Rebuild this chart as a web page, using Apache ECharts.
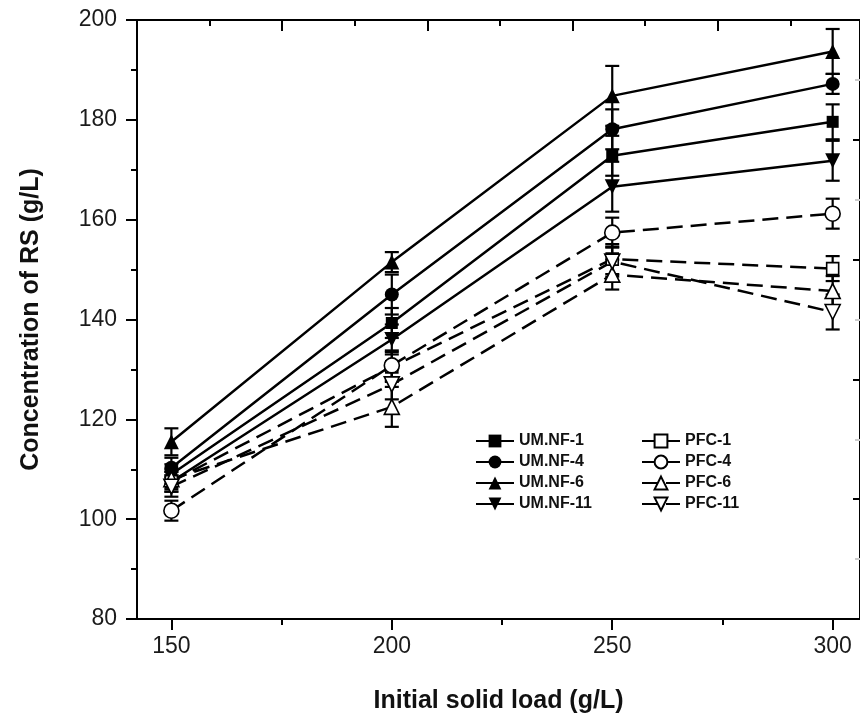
<!DOCTYPE html>
<html>
<head>
<meta charset="utf-8">
<script src="https://cdn.jsdelivr.net/npm/echarts@6/dist/echarts.min.js"></script>
<style>html,body{margin:0;padding:0;background:#fff}#c{width:860px;height:725px}</style>
</head>
<body>
<div id="c"></div>
<script>
// ---- data ----
const loads = [150, 200, 250, 300];
const xTickLabels = [150, 200, 250, 300];
const xMinorTicks = [175, 225, 275];
const yTickMin = 80, yTickMax = 200, yTickStep = 20;

const umnf1  = [109.0, 139.3, 172.8, 179.6];
const umnf4  = [110.3, 145.0, 178.1, 187.2];
const umnf6  = [115.5, 151.5, 184.8, 193.7];
const umnf11 = [107.5, 136.0, 166.6, 171.8];
const pfc1   = [107.5, 130.5, 152.1, 150.2];
const pfc4   = [101.7, 130.8, 157.4, 161.2];
const pfc6   = [108.0, 122.5, 149.0, 145.7];
const pfc11  = [106.5, 127.0, 151.6, 141.5];

const errUmnf1  = [2.0, 3.0, 4.0, 3.5];
const errUmnf4  = [2.0, 4.0, 4.0, 2.0];
const errUmnf6  = [2.7, 2.0, 6.0, 4.5];
const errUmnf11 = [2.0, 3.0, 5.0, 4.0];
const errPfc1   = [2.0, 3.0, 3.0, 2.5];
const errPfc4   = [2.0, 3.0, 3.0, 3.0];
const errPfc6   = [2.0, 4.0, 3.0, 3.0];
const errPfc11  = [2.0, 3.0, 3.0, 3.5];

const FONT = "'Liberation Sans', Arial, sans-serif";

const seriesDefs = [
  {name:'UM.NF-1',  data:umnf1,  err:errUmnf1,  symbol:'rect',     size:12, rot:0,   hollow:false},
  {name:'UM.NF-4',  data:umnf4,  err:errUmnf4,  symbol:'circle',   size:14, rot:0,   hollow:false},
  {name:'UM.NF-6',  data:umnf6,  err:errUmnf6,  symbol:'triangle', size:15, rot:0,   hollow:false},
  {name:'UM.NF-11', data:umnf11, err:errUmnf11, symbol:'triangle', size:15, rot:180, hollow:false},
  {name:'PFC-1',    data:pfc1,   err:errPfc1,   symbol:'rect',     size:12, rot:0,   hollow:true},
  {name:'PFC-4',    data:pfc4,   err:errPfc4,   symbol:'circle',   size:15, rot:0,   hollow:true},
  {name:'PFC-6',    data:pfc6,   err:errPfc6,   symbol:'triangle', size:15, rot:0,   hollow:true},
  {name:'PFC-11',   data:pfc11,  err:errPfc11,  symbol:'triangle', size:15, rot:180, hollow:true}
];

function renderErr(params, api) {
  const x = api.value(0), y = api.value(1), e = api.value(2);
  const hi = api.coord([x, y + e]);
  const lo = api.coord([x, y - e]);
  const w = 7;
  const st = {stroke:'#000', lineWidth:2.2};
  return {type:'group', children:[
    {type:'line', shape:{x1:hi[0], y1:hi[1], x2:lo[0], y2:lo[1]}, style:st},
    {type:'line', shape:{x1:hi[0]-w, y1:hi[1], x2:hi[0]+w, y2:hi[1]}, style:st},
    {type:'line', shape:{x1:lo[0]-w, y1:lo[1], x2:lo[0]+w, y2:lo[1]}, style:st}
  ]};
}

const series = [];
seriesDefs.forEach(d => {
  series.push({
    type:'custom', name:d.name + ' err', xAxisIndex:0, yAxisIndex:0,
    renderItem: renderErr, z:3, silent:true,
    data: loads.map((x,i)=>[x, d.data[i], d.err[i]])
  });
});
seriesDefs.forEach(d => {
  series.push({
    type:'line', name:d.name, xAxisIndex:0, yAxisIndex:0, z:4,
    data: loads.map((x,i)=>[x, d.data[i]]),
    symbol:d.symbol, symbolSize:d.size, symbolRotate:d.rot,
    showAllSymbol:true,
    lineStyle:{color:'#000', width:2.5, type: d.hollow ? [16,8] : 'solid'},
    itemStyle:{color: d.hollow ? '#fff' : '#000', borderColor:'#000', borderWidth: d.hollow ? 1.6 : 0, opacity:1},
    emphasis:{disabled:true}
  });
});

const chart = echarts.init(document.getElementById('c'), null, {renderer:'canvas'});
const labelStyle = {fontFamily:FONT, fontSize:23, color:'#1a1a1a'};
const legendText = {fontFamily:FONT, fontSize:16, fontWeight:'bold', color:'#111', lineHeight:16};

chart.setOption({
  animation:false,
  backgroundColor:'#fff',
  grid:{left:137, top:20, right:-3, bottom:106, containLabel:false},
  legend:[
    {orient:'vertical', left:475, top:433, itemWidth:38, itemHeight:16, itemGap:5, padding:0,
     data:['UM.NF-1','UM.NF-4','UM.NF-6','UM.NF-11'], textStyle:legendText, selectedMode:false},
    {orient:'vertical', left:641, top:433, itemWidth:38, itemHeight:16, itemGap:5, padding:0,
     data:['PFC-1','PFC-4','PFC-6','PFC-11'], textStyle:legendText, selectedMode:false}
  ],
  xAxis:[
    {type:'value', position:'bottom', min:142.2, max:306.2,
     name:'Initial solid load (g/L)', nameLocation:'middle', nameGap:70,
     nameTextStyle:{fontFamily:FONT, fontSize:25, fontWeight:'bold', color:'#111'},
     axisLine:{show:true, onZero:false, lineStyle:{color:'#000', width:2}},
     axisTick:{show:true, inside:false, length:11, lineStyle:{color:'#000', width:2}, customValues:xTickLabels},
     axisLabel:{show:true, margin:16, customValues:xTickLabels, ...labelStyle},
     splitLine:{show:false}},
    {type:'value', position:'bottom', min:142.2, max:306.2,
     axisLine:{show:false},
     axisTick:{show:true, inside:false, length:6, lineStyle:{color:'#000', width:2}, customValues:xMinorTicks},
     axisLabel:{show:false}, splitLine:{show:false}},
    {type:'value', position:'top', min:0, max:4.98,
     axisLine:{show:true, onZero:false, lineStyle:{color:'#000', width:2}},
     axisTick:{show:true, inside:true, length:11, lineStyle:{color:'#000', width:2}, customValues:[1,2,3,4]},
     axisLabel:{show:false}, splitLine:{show:false}},
    {type:'value', position:'top', min:0, max:4.98,
     axisLine:{show:false},
     axisTick:{show:true, inside:true, length:6, lineStyle:{color:'#000', width:2}, customValues:[0.5,1.5,2.5,3.5,4.5]},
     axisLabel:{show:false}, splitLine:{show:false}}
  ],
  yAxis:[
    {type:'value', position:'left', min:yTickMin, max:yTickMax, interval:yTickStep,
     name:'Concentration of RS (g/L)', nameLocation:'middle', nameGap:93,
     nameTextStyle:{fontFamily:FONT, fontSize:25, fontWeight:'bold', color:'#111'},
     axisLine:{show:true, onZero:false, lineStyle:{color:'#000', width:2}},
     axisTick:{show:true, inside:false, length:11, lineStyle:{color:'#000', width:2}},
     minorTick:{show:true, splitNumber:2, length:6, lineStyle:{color:'#000', width:2}},
     axisLabel:{show:true, margin:20, ...labelStyle},
     splitLine:{show:false}, minorSplitLine:{show:false}},
    {type:'value', position:'right', min:0, max:5, interval:1,
     axisLine:{show:true, onZero:false, lineStyle:{color:'#000', width:2}},
     axisTick:{show:true, inside:true, length:7, lineStyle:{color:'#000', width:2}},
     minorTick:{show:true, splitNumber:2, length:5, lineStyle:{color:'#ccc', width:2}},
     axisLabel:{show:false}, splitLine:{show:false}}
  ],
  series: series
});
</script>
</body>
</html>
